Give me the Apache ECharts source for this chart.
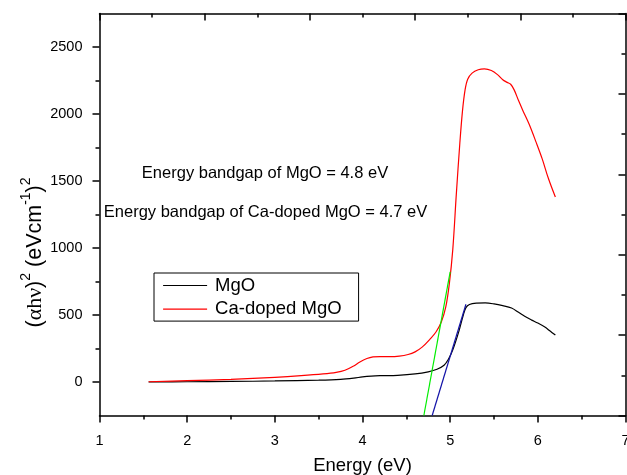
<!DOCTYPE html>
<html>
<head>
<meta charset="utf-8">
<script src="https://cdn.jsdelivr.net/npm/echarts@6/dist/echarts.min.js"></script>
<style>
html,body{margin:0;padding:0;background:#fff;}
#c{width:627px;height:475px;}
</style>
</head>
<body>
<div id="c"></div>
<script>
// ---- data ----
const mgoEnergy = [1.56, 2.0, 2.5, 3.0, 3.5, 3.75, 3.9, 4.0, 4.1, 4.2, 4.4, 4.6, 4.75, 4.85, 4.93, 4.98, 5.03, 5.1, 5.15, 5.18, 5.22, 5.3, 5.4, 5.5, 5.6, 5.7, 5.78, 5.85, 5.93, 6.0, 6.08, 6.14, 6.2];
const mgoValue  = [0, 2, 4, 8, 14, 20, 29, 38, 44, 47, 50, 60, 76, 95, 125, 170, 240, 380, 500, 555, 578, 588, 590, 583, 570, 552, 520, 490, 462, 440, 410, 380, 350];

const caEnergy = [1.56, 2.0, 2.5, 3.0, 3.3, 3.55, 3.7, 3.8, 3.9, 3.97, 4.05, 4.12, 4.2, 4.31, 4.42, 4.52, 4.6, 4.68, 4.77, 4.84, 4.9, 4.95, 4.99, 5.03, 5.07, 5.11, 5.14, 5.17, 5.2, 5.25, 5.32, 5.39, 5.47, 5.54, 5.6, 5.65, 5.69, 5.73, 5.78, 5.83, 5.9, 5.98, 6.05, 6.12, 6.2];
const caValue  = [2, 10, 20, 35, 47, 60, 72, 88, 120, 150, 175, 187, 190, 189, 193, 205, 225, 260, 320, 375, 450, 560, 730, 990, 1400, 1780, 2020, 2180, 2260, 2305, 2330, 2337, 2325, 2294, 2255, 2236, 2222, 2180, 2100, 2025, 1925, 1790, 1665, 1520, 1380];

const fitCaEnergy = [4.70, 5.0];
const fitCaValue  = [-250, 822];
const fitMgoEnergy = [4.795, 5.18];
const fitMgoValue  = [-250, 580];

const seriesNames = ['MgO', 'Ca-doped MgO'];
const yMajorTicks = [0, 500, 1000, 1500, 2000, 2500];
const yMinorTicks = [250, 750, 1250, 1750, 2250];
const noteLines = ['Energy bandgap of MgO = 4.8 eV', 'Energy bandgap of Ca-doped MgO = 4.7 eV'];

const pairs = (xs, ys) => xs.map((x, i) => [x, ys[i]]);

const FONT = "'Liberation Sans', Arial, sans-serif";
const axisLineStyle = { color: '#000', width: 1.5 };

const chart = echarts.init(document.getElementById('c'), null, { renderer: 'canvas' });
chart.setOption({
  animation: false,
  backgroundColor: '#fff',
  textStyle: { fontFamily: FONT },
  grid: { left: 99.5, right: 1.5, top: 13.5, bottom: 59.5, containLabel: false, outerBoundsMode: 'none' },
  legend: {
    data: seriesNames,
    orient: 'vertical',
    left: 154,
    top: 273,
    itemWidth: 44,
    itemHeight: 20,
    itemGap: 3.6,
    padding: [2.5, 17, 2, 8.5],
    borderColor: '#000',
    borderWidth: 1,
    itemStyle: { opacity: 0 },
    lineStyle: { width: 1.2 },
    textStyle: { fontSize: 18.5, color: '#000', fontFamily: FONT, lineHeight: 20, padding: [0, 0, 0, 3] }
  },
  xAxis: [
    {
      type: 'value', min: 1, max: 7, interval: 1, position: 'bottom',
      axisLine: { show: true, onZero: false, lineStyle: axisLineStyle },
      axisTick: { show: true, length: 7, lineStyle: axisLineStyle },
      minorTick: { show: true, splitNumber: 2, length: 4, lineStyle: axisLineStyle },
      axisLabel: { fontSize: 14.5, color: '#000', margin: 18, fontFamily: FONT, formatter: v => String(v) },
      splitLine: { show: false },
      name: 'Energy (eV)', nameLocation: 'middle', nameGap: 41,
      nameTextStyle: { fontSize: 18.5, color: '#000', fontFamily: FONT }
    },
    {
      type: 'value', min: 0, max: 5, interval: 1, position: 'top',
      axisLine: { show: true, onZero: false, lineStyle: axisLineStyle },
      axisTick: { show: true, inside: true, length: 7, lineStyle: axisLineStyle },
      minorTick: { show: true, splitNumber: 2, length: 4, lineStyle: axisLineStyle },
      axisLabel: { show: false },
      splitLine: { show: false }
    }
  ],
  yAxis: [
    {
      type: 'value', min: -250, max: 2750, position: 'left',
      axisLine: { show: true, onZero: false, lineStyle: axisLineStyle },
      axisTick: { show: true, length: 7, lineStyle: axisLineStyle, customValues: yMajorTicks },
      axisLabel: { fontSize: 14.5, color: '#000', margin: 17, fontFamily: FONT, customValues: yMajorTicks, formatter: v => String(v) },
      splitLine: { show: false }
    },
    {
      type: 'value', min: -250, max: 2750, position: 'left',
      axisLine: { show: false, onZero: false },
      axisTick: { show: true, length: 4, lineStyle: axisLineStyle, customValues: yMinorTicks },
      axisLabel: { show: false },
      splitLine: { show: false }
    },
    {
      type: 'value', min: 0, max: 5, interval: 1, position: 'right',
      axisLine: { show: true, onZero: false, lineStyle: axisLineStyle },
      axisTick: { show: true, inside: true, length: 7, lineStyle: axisLineStyle },
      minorTick: { show: true, splitNumber: 2, length: 4, lineStyle: axisLineStyle },
      axisLabel: { show: false },
      splitLine: { show: false }
    }
  ],
  series: [
    {
      name: seriesNames[0], type: 'line', xAxisIndex: 0, yAxisIndex: 0,
      data: pairs(mgoEnergy, mgoValue), symbol: 'none', showSymbol: false,
      smooth: 0.35,
      lineStyle: { color: '#000', width: 1.2 }, itemStyle: { color: '#000' }, z: 3
    },
    {
      name: seriesNames[1], type: 'line', xAxisIndex: 0, yAxisIndex: 0,
      data: pairs(caEnergy, caValue), symbol: 'none', showSymbol: false,
      smooth: 0.35,
      lineStyle: { color: '#ff0000', width: 1.2 }, itemStyle: { color: '#ff0000' }, z: 3
    },
    {
      name: 'fitCa', type: 'line', xAxisIndex: 0, yAxisIndex: 0,
      data: pairs(fitCaEnergy, fitCaValue), symbol: 'none', showSymbol: false,
      lineStyle: { color: '#00ee00', width: 1.2 }, z: 4
    },
    {
      name: 'fitMgO', type: 'line', xAxisIndex: 0, yAxisIndex: 0,
      data: pairs(fitMgoEnergy, fitMgoValue), symbol: 'none', showSymbol: false,
      lineStyle: { color: '#1414a8', width: 1.2 }, z: 4
    }
  ],
  graphic: [
    {
      type: 'text', x: 265, y: 173, z: 10,
      style: { text: noteLines[0], font: "16.5px " + FONT, fill: '#000', align: 'center', verticalAlign: 'middle' }
    },
    {
      type: 'text', x: 265.5, y: 212.5, z: 10,
      style: { text: noteLines[1], font: "16.5px " + FONT, fill: '#000', align: 'center', verticalAlign: 'middle' }
    },
    {
      type: 'text', x: 33, y: 252.5, rotation: Math.PI / 2, z: 10,
      style: {
        text: '{p|(}{g|\u03b1h\u03bd}{p|)}{s|2}{p| (eVcm}{s|-1}{p|)}{s|2}',
        align: 'center', verticalAlign: 'middle', fill: '#000',
        rich: {
          p: { fontSize: 21.5, fontFamily: FONT, lineHeight: 27, verticalAlign: 'bottom', fill: '#000' },
          g: { fontSize: 22, fontFamily: "'Liberation Serif', 'Times New Roman', serif", lineHeight: 27, verticalAlign: 'bottom', fill: '#000' },
          s: { fontSize: 14, fontFamily: FONT, lineHeight: 27, verticalAlign: 'top', fill: '#000' }
        }
      }
    }
  ]
});
</script>
</body>
</html>
